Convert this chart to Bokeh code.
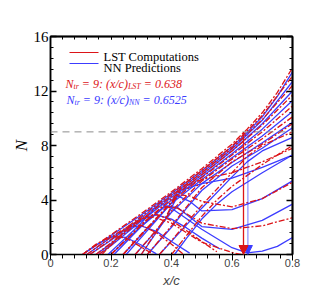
from bokeh.plotting import figure
from bokeh.models import (Range1d, LinearAxis, Span, Arrow, NormalHead, Label,
                          SingleIntervalTicker, FixedTicker)
from bokeh.embed import file_html
from bokeh.resources import INLINE

RED = "#dc1418"
BLUE = "#3c3cff"
FONT = "Liberation Serif"

# ---- data: N-factor curves (x/c, N) ----
lst_x = [
    [0.106, 0.2, 0.3, 0.4, 0.5, 0.6, 0.65, 0.7, 0.75, 0.8],
    [0.13, 0.2, 0.3, 0.4, 0.5, 0.6, 0.7, 0.8],
    [0.16, 0.2, 0.3, 0.4, 0.5, 0.6, 0.7, 0.8],
    [0.2, 0.3, 0.4, 0.5, 0.6, 0.7, 0.8],
    [0.24, 0.3, 0.4, 0.5, 0.6, 0.7, 0.8],
    [0.28, 0.35, 0.4, 0.5, 0.6, 0.7, 0.8],
    [0.32, 0.4, 0.45, 0.5, 0.6, 0.7, 0.8],
    [0.36, 0.43, 0.5, 0.6, 0.65, 0.7, 0.8],
    [0.40, 0.45, 0.5, 0.55, 0.6, 0.7, 0.8],
    [0.106, 0.15, 0.2, 0.25, 0.3, 0.34],
    [0.12, 0.2, 0.26, 0.3, 0.35, 0.4, 0.44],
    [0.15, 0.2, 0.3, 0.35, 0.4, 0.45, 0.5, 0.55],
    [0.17, 0.25, 0.3, 0.34, 0.4, 0.5, 0.6, 0.63],
    [0.2, 0.3, 0.37, 0.42, 0.5, 0.6, 0.7, 0.8],
    [0.24, 0.35, 0.42, 0.46, 0.5, 0.6, 0.7, 0.8],
    [0.3, 0.38, 0.43, 0.5, 0.6, 0.7, 0.8],
]
lst_n = [
    [0, 1.45, 3.0, 4.6, 6.3, 8.1, 9.2, 10.4, 11.9, 13.7],
    [0, 1.1, 2.8, 4.45, 6.15, 7.95, 10.2, 13.1],
    [0, 0.7, 2.55, 4.3, 6.0, 7.8, 9.9, 12.4],
    [0, 2.2, 4.1, 5.85, 7.6, 9.5, 11.7],
    [0, 1.5, 3.85, 5.65, 7.3, 9.0, 10.9],
    [0, 1.8, 3.2, 5.4, 7.0, 8.5, 10.1],
    [0, 2.1, 3.5, 4.9, 6.8, 8.1, 9.6],
    [0, 1.8, 3.6, 6.0, 7.2, 8.0, 9.0],
    [0, 1.4, 2.8, 4.0, 5.0, 6.6, 8.0],
    [0, 0.75, 1.35, 1.2, 0.55, 0],
    [0, 1.3, 2.1, 2.15, 1.6, 0.75, 0],
    [0, 0.85, 2.7, 2.95, 2.5, 1.75, 0.95, 0.2],
    [0, 1.85, 2.6, 2.75, 2.3, 0.9, 0.15, 0],
    [0, 2.15, 3.5, 3.4, 2.3, 1.9, 2.1, 2.7],
    [0, 2.6, 4.4, 4.3, 3.9, 3.5, 4.1, 5.3],
    [0, 2.7, 4.9, 5.5, 6.0, 6.8, 7.8],
]
nn_x = [
    [0.106, 0.2, 0.3, 0.4, 0.5, 0.6, 0.65, 0.7, 0.75, 0.8],
    [0.13, 0.2, 0.3, 0.4, 0.5, 0.6, 0.7, 0.8],
    [0.16, 0.2, 0.3, 0.4, 0.5, 0.6, 0.7, 0.8],
    [0.2, 0.3, 0.4, 0.5, 0.6, 0.7, 0.8],
    [0.24, 0.3, 0.4, 0.5, 0.6, 0.7, 0.8],
    [0.28, 0.35, 0.4, 0.5, 0.6, 0.7, 0.8],
    [0.32, 0.4, 0.45, 0.5, 0.6, 0.7, 0.8],
    [0.36, 0.43, 0.5, 0.6, 0.65, 0.7, 0.8],
    [0.41, 0.45, 0.5, 0.55, 0.6, 0.7, 0.8],
    [0.106, 0.15, 0.2, 0.25, 0.3, 0.35],
    [0.12, 0.2, 0.26, 0.3, 0.35, 0.4, 0.46],
    [0.15, 0.2, 0.3, 0.35, 0.4, 0.45, 0.5, 0.56],
    [0.19, 0.3, 0.36, 0.4, 0.5, 0.6, 0.65, 0.7, 0.75, 0.8],
    [0.21, 0.3, 0.38, 0.42, 0.5, 0.6, 0.7, 0.8],
    [0.25, 0.35, 0.42, 0.46, 0.5, 0.6, 0.7, 0.8],
    [0.3, 0.38, 0.43, 0.5, 0.6, 0.7, 0.8],
]
nn_n = [
    [0, 1.4, 2.9, 4.5, 6.15, 7.9, 8.95, 10.1, 11.6, 13.4],
    [0, 1.05, 2.7, 4.35, 6.0, 7.75, 9.85, 12.7],
    [0, 0.65, 2.45, 4.2, 5.85, 7.6, 9.6, 12.0],
    [0, 2.1, 4.0, 5.7, 7.4, 9.2, 11.3],
    [0, 1.45, 3.75, 5.5, 7.1, 8.7, 10.5],
    [0, 1.75, 3.1, 5.2, 6.75, 8.2, 9.7],
    [0, 2.0, 3.4, 4.7, 6.5, 7.8, 9.3],
    [0, 1.7, 3.4, 5.7, 6.8, 7.6, 8.6],
    [0, 1.2, 2.6, 3.7, 4.6, 6.0, 7.3],
    [0, 0.7, 1.3, 1.25, 0.7, 0.05],
    [0, 1.25, 2.0, 2.1, 1.7, 0.95, 0.1],
    [0, 0.8, 2.6, 2.9, 2.6, 1.95, 1.2, 0.4],
    [0, 2.3, 3.75, 3.4, 1.85, 0.5, 0.12, 0.25, 0.6, 1.25],
    [0, 2.05, 3.55, 3.45, 2.05, 1.85, 2.5, 3.7],
    [0, 2.5, 4.3, 3.9, 3.2, 3.3, 4.1, 5.4],
    [0, 2.6, 4.7, 5.2, 5.6, 6.4, 7.3],
]
n_tr = 9
x_tr_lst = 0.638
x_tr_nn = 0.6525
legend_labels = ["LST Computations", "NN Predictions"]
x_ticks = [0, 0.2, 0.4, 0.6, 0.8]
y_ticks = [0, 4, 8, 12, 16]

# ---- figure ----
p = figure(width=332, height=296,
           x_range=Range1d(0, 0.8), y_range=Range1d(0, 16),
           output_backend="svg", toolbar_location=None,
           min_border_left=50, min_border_top=36, min_border_right=40,
           min_border_bottom=42, background_fill_color="white")
p.grid.visible = False
p.outline_line_color = "black"
p.outline_line_width = 1.5

p.xaxis.ticker = SingleIntervalTicker(interval=0.2, num_minor_ticks=5)
p.yaxis.ticker = SingleIntervalTicker(interval=4, num_minor_ticks=5)
p.xaxis.major_label_overrides = {0: "0"}
p.xaxis.axis_label = "x/c"
p.yaxis.axis_label = "N"

x_minor = [i * 0.04 for i in range(21)]
y_minor = [i * 0.8 for i in range(21)]
extra = [
    ("above", LinearAxis(ticker=FixedTicker(ticks=[], minor_ticks=x_ticks)), 6),
    ("above", LinearAxis(ticker=FixedTicker(ticks=[], minor_ticks=x_minor)), 3),
    ("right", LinearAxis(ticker=FixedTicker(ticks=[], minor_ticks=y_ticks)), 6),
    ("right", LinearAxis(ticker=FixedTicker(ticks=[], minor_ticks=y_minor)), 3),
]
for side, ax, ln in extra:
    ax.minor_tick_in = ln
    ax.minor_tick_out = 0
    ax.minor_tick_line_width = 1.5 if ln == 6 else 1
    ax.major_tick_out = 0
    ax.major_tick_in = 0
    ax.major_label_standoff = 0
    ax.axis_line_width = 1.5
    p.add_layout(ax, side)

for ax in [p.xaxis[0], p.yaxis[0]]:
    ax.major_tick_in = 6
    ax.major_tick_out = 0
    ax.minor_tick_in = 3
    ax.minor_tick_out = 0
    ax.axis_line_width = 1.5
    ax.major_tick_line_width = 1.5
    ax.minor_tick_line_width = 1
    ax.major_label_text_font = FONT
    ax.major_label_text_font_size = "15px"
    ax.major_label_text_color = "black"
    ax.axis_label_text_font = FONT
    ax.axis_label_text_font_size = "17px"
    ax.axis_label_text_font_style = "italic"
    ax.axis_label_text_color = "black"
p.xaxis.major_label_standoff = -2
p.xaxis.axis_label_standoff = 3
p.yaxis.major_label_standoff = 2
p.yaxis.axis_label_standoff = 0

# threshold line
p.add_layout(Span(location=n_tr, dimension="width", line_color="#8c8c8c",
                  line_dash="7 5", line_width=1))

# curves
p.multi_line(xs=nn_x, ys=nn_n, line_color=BLUE, line_width=1.3)
p.multi_line(xs=lst_x, ys=lst_n, line_color=RED, line_width=1.3,
             line_dash="6 2 2 2")

# transition arrows
p.add_layout(Arrow(end=NormalHead(size=9, fill_color=BLUE, line_color=BLUE),
                   x_start=x_tr_nn, y_start=n_tr, x_end=x_tr_nn, y_end=0,
                   line_color=BLUE, line_alpha=0.55, line_width=1.3))
p.add_layout(Arrow(end=NormalHead(size=9, fill_color=RED, line_color=RED),
                   x_start=x_tr_lst, y_start=n_tr, x_end=x_tr_lst, y_end=0,
                   line_color=RED, line_width=1.3))

# legend drawn as screen-space key lines + labels
for (label, color), ly in zip(zip(legend_labels, [RED, BLUE]), [202, 191]):
    p.add_layout(Arrow(end=None, start=None, x_start=19, y_start=ly,
                       x_end=48, y_end=ly, start_units="screen",
                       end_units="screen", line_color=color, line_width=1.2))
    p.add_layout(Label(x=53, y=ly - 4, x_units="screen", y_units="screen",
                       text=label, text_font=FONT, text_font_size="12.5px",
                       text_color="black", text_baseline="alphabetic",
                       text_align="left"))

# rich-ish text labels built from pieces
W = {"N": .667, "t": .278, "r": .389, " ": .25, "=": .675, ":": .333,
     "(": .333, ")": .333, "x": .444, "/": .278, "c": .444, ".": .25,
     "L": .556, "S": .5, "T": .556}


def width(s, size):
    return sum(W.get(ch, 0.5) for ch in s) * size


def rich(pieces, x0, y0, color):
    x = x0
    for txt, size, dy in pieces:
        lead = len(txt) - len(txt.lstrip(" "))
        x += lead * W[" "] * size
        t = txt.strip(" ")
        p.add_layout(Label(x=x, y=y0 + dy, x_units="screen", y_units="screen",
                           text=t, text_font=FONT, text_font_style="italic",
                           text_font_size=f"{size}px", text_color=color,
                           text_baseline="alphabetic", text_align="left"))
        x += width(t, size)


MAIN, SUB = 12, 8
rich([("N", MAIN, 0), ("tr", SUB, -3), (f" = {n_tr}: (x/c)", MAIN, 0),
      ("LST", SUB, -3), (f" = {x_tr_lst}", MAIN, 0)], 15, 171, RED)
rich([("N", MAIN, 0), ("tr", SUB, -3), (f" = {n_tr}: (x/c)", MAIN, 0),
      ("NN", SUB, -3), (f" = {x_tr_nn}", MAIN, 0)], 16, 155, BLUE)

open("out.html", "w").write(file_html(p, INLINE))
